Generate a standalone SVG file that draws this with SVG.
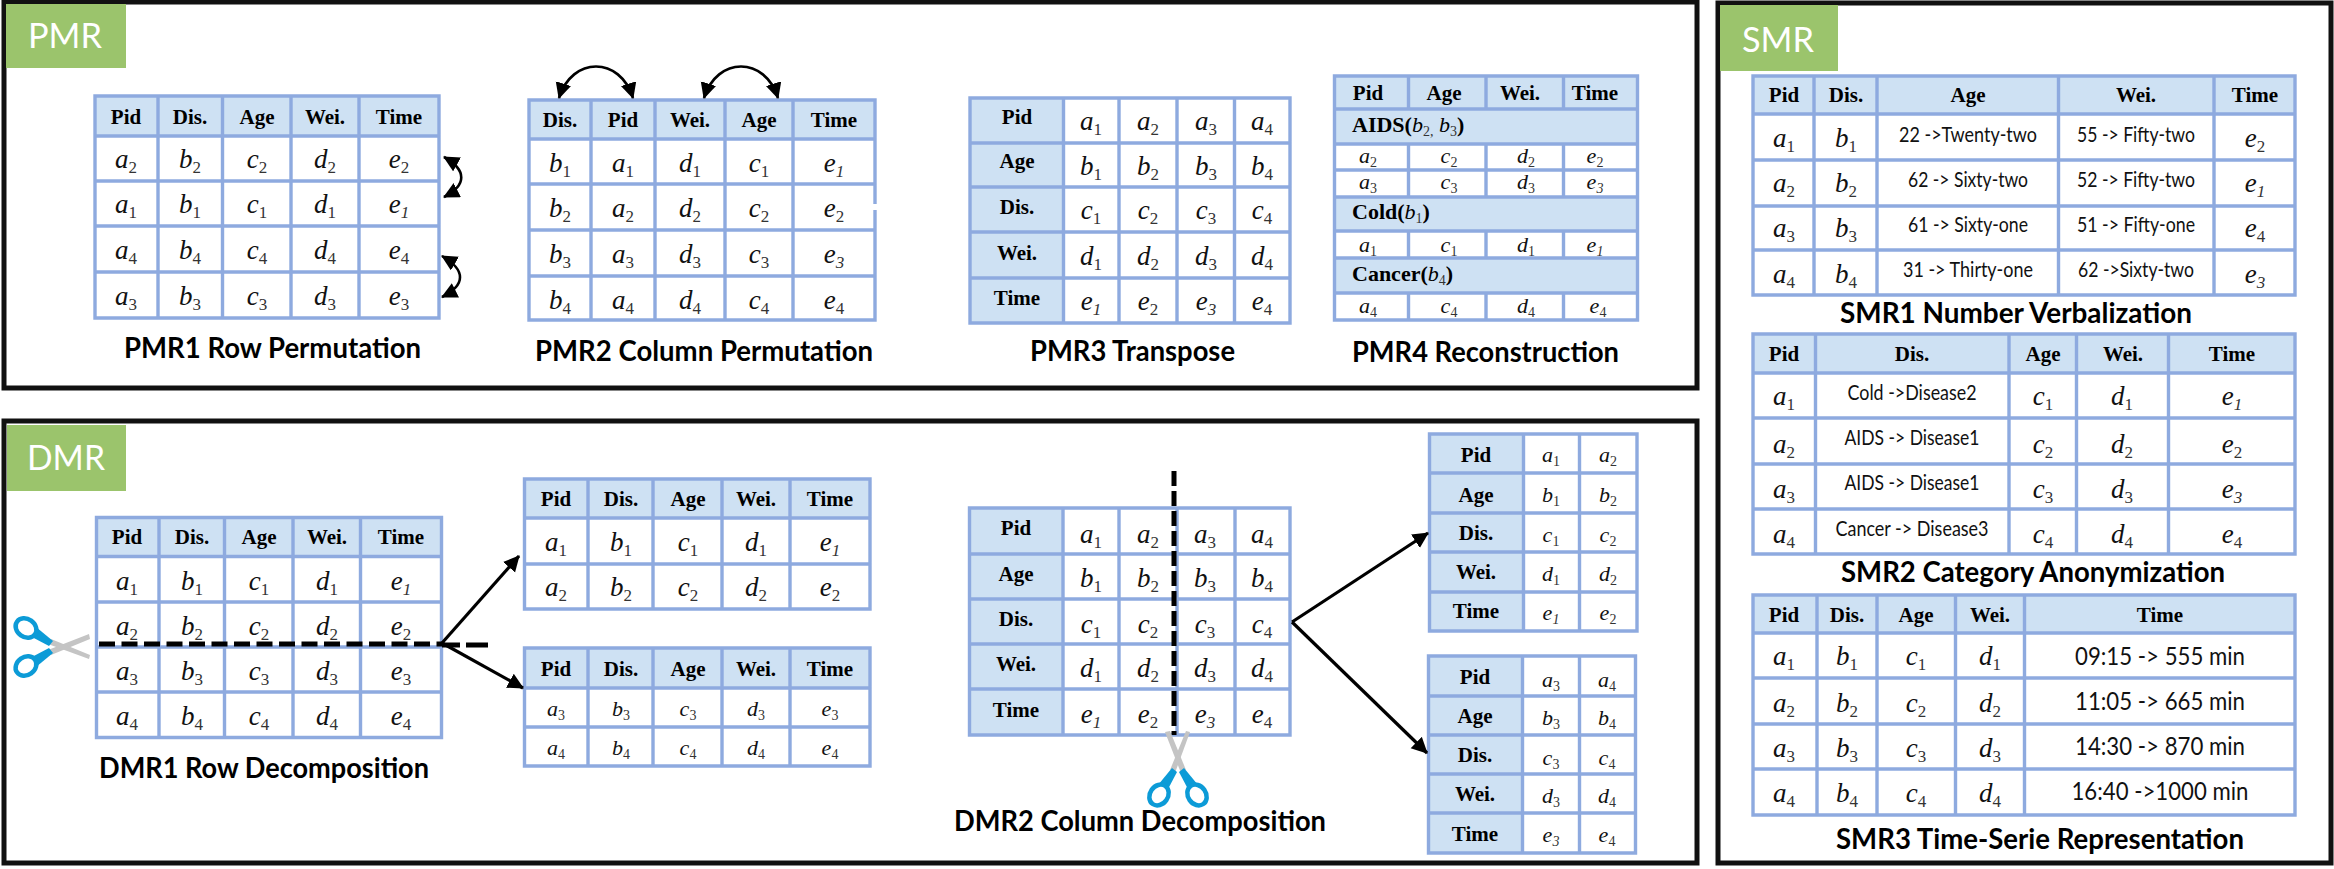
<svg xmlns="http://www.w3.org/2000/svg" width="2334" height="869" viewBox="0 0 2334 869">
<style>
.panel{fill:#fff;stroke:#111;stroke-width:5}
.tag{fill:#9BC46C}
.tagt{font-family:Lato,"Liberation Sans",sans-serif;font-size:34px;fill:#fff;text-anchor:middle}
.head{fill:#CEE1F3}
.grid{fill:none;stroke:#8EAADF;stroke-width:3.4}
.h{font-family:"Liberation Serif",serif;font-weight:bold;font-size:21px;text-anchor:middle;fill:#000}
.m{font-family:"Liberation Serif",serif;font-style:italic;font-size:27px;text-anchor:middle;fill:#111}
.s{font-style:normal;font-size:17px;baseline-shift:-5px;fill:#333}
.t{font-style:italic}
.sm .m,.sm.m{font-size:22px}
.sm .s,.sm.m .s{font-size:14px;baseline-shift:-4px}
.l{font-family:"Liberation Serif",serif;font-weight:bold;font-size:22px;fill:#000}
.l tspan{font-weight:normal;font-style:italic}
.l .s{font-style:normal;font-size:14px;baseline-shift:-4px}
.x{font-family:Lato,"Liberation Sans",sans-serif;font-size:21px;text-anchor:middle;fill:#111}
.x2{font-size:25px}
.title{font-family:Lato,"Liberation Sans",sans-serif;font-weight:bold;font-size:28px;fill:#000}
.arc{fill:none;stroke:#000;stroke-width:2.6}
.arw{fill:none;stroke:#000;stroke-width:3.2}
.cut{fill:none;stroke:#000;stroke-width:5}
.blade{fill:#C4C4C4}
.hand{fill:#fff;stroke:#0C9BD7;stroke-width:4.5}
.arm{fill:#0C9BD7}
</style>
<defs>
<marker id="ah" markerUnits="userSpaceOnUse" markerWidth="18" markerHeight="18" refX="15" refY="8" orient="auto-start-reverse"><path d="M0,0 L16,8 L0,16 Z" fill="#000"/></marker>
<g id="scissors">
<path class="blade" d="M32,-13 L33,-8 L-6,8 L-9,3 Z"/>
<path class="blade" d="M32,12 L33,8 L-6,-8 L-9,-3 Z"/>
<path class="arm" d="M-4,-6 L-21,-20 L-27,-11 L-8,-1 Z"/>
<path class="arm" d="M-4,6 L-21,20 L-27,11 L-8,1 Z"/>
<ellipse class="hand" cx="-31" cy="-19" rx="11" ry="9" transform="rotate(35 -31 -19)"/>
<ellipse class="hand" cx="-31" cy="19" rx="11" ry="9" transform="rotate(-35 -31 19)"/>
</g>
</defs>
<rect width="2334" height="869" fill="#fff"/>
<g id="panel-pmr"><rect class="panel" x="4" y="2" width="1693" height="386"/><rect class="tag" x="6" y="4" width="120" height="64"/><text class="tagt" x="65" y="48" textLength="74" lengthAdjust="spacingAndGlyphs">PMR</text></g>
<g id="panel-dmr"><rect class="panel" x="4" y="421" width="1693" height="442"/><rect class="tag" x="7" y="425" width="119" height="66"/><text class="tagt" x="66" y="470" textLength="78" lengthAdjust="spacingAndGlyphs">DMR</text></g>
<g id="panel-smr"><rect class="panel" x="1718" y="3" width="613" height="860"/><rect class="tag" x="1720" y="5" width="118" height="66"/><text class="tagt" x="1778" y="52" textLength="72" lengthAdjust="spacingAndGlyphs">SMR</text></g>

<g id="pmr1">
<rect class="head" x="95" y="96" width="344" height="40"/>
<path class="grid" d="M95,96H439V318H95ZM95,136H439M95,181H439M95,226H439M95,272H439M158,96V318M222.5,96V318M291,96V318M359,96V318"/>
<g class="h"><text x="126" y="124">Pid</text><text x="190" y="124">Dis.</text><text x="257" y="124">Age</text><text x="325" y="124">Wei.</text><text x="399" y="124">Time</text></g>
<g class="m">
<text x="126" y="168">a<tspan class="s">2</tspan></text><text x="190" y="168">b<tspan class="s">2</tspan></text><text x="257" y="168">c<tspan class="s">2</tspan></text><text x="325" y="168">d<tspan class="s">2</tspan></text><text x="399" y="168">e<tspan class="s">2</tspan></text>
<text x="126" y="213">a<tspan class="s">1</tspan></text><text x="190" y="213">b<tspan class="s">1</tspan></text><text x="257" y="213">c<tspan class="s">1</tspan></text><text x="325" y="213">d<tspan class="s">1</tspan></text><text x="399" y="213">e<tspan class="s t">1</tspan></text>
<text x="126" y="259">a<tspan class="s">4</tspan></text><text x="190" y="259">b<tspan class="s">4</tspan></text><text x="257" y="259">c<tspan class="s">4</tspan></text><text x="325" y="259">d<tspan class="s">4</tspan></text><text x="399" y="259">e<tspan class="s">4</tspan></text>
<text x="126" y="305">a<tspan class="s">3</tspan></text><text x="190" y="305">b<tspan class="s">3</tspan></text><text x="257" y="305">c<tspan class="s">3</tspan></text><text x="325" y="305">d<tspan class="s">3</tspan></text><text x="399" y="305">e<tspan class="s">3</tspan></text>
</g>
<text class="title" x="124" y="358" textLength="297" lengthAdjust="spacingAndGlyphs">PMR1 Row Permutation</text>
</g>

<g id="pmr2">
<rect class="head" x="529" y="100" width="346" height="39"/>
<path class="grid" d="M529,100H875V320H529ZM529,139H875M529,184H875M529,230H875M529,276H875M591,100V320M655,100V320M725,100V320M793,100V320"/>
<g class="h"><text x="560" y="127">Dis.</text><text x="623" y="127">Pid</text><text x="690" y="127">Wei.</text><text x="759" y="127">Age</text><text x="834" y="127">Time</text></g>
<g class="m">
<text x="560" y="172">b<tspan class="s">1</tspan></text><text x="623" y="172">a<tspan class="s">1</tspan></text><text x="690" y="172">d<tspan class="s">1</tspan></text><text x="759" y="172">c<tspan class="s">1</tspan></text><text x="834" y="172">e<tspan class="s t">1</tspan></text>
<text x="560" y="217">b<tspan class="s">2</tspan></text><text x="623" y="217">a<tspan class="s">2</tspan></text><text x="690" y="217">d<tspan class="s">2</tspan></text><text x="759" y="217">c<tspan class="s">2</tspan></text><text x="834" y="217">e<tspan class="s">2</tspan></text>
<text x="560" y="263">b<tspan class="s">3</tspan></text><text x="623" y="263">a<tspan class="s">3</tspan></text><text x="690" y="263">d<tspan class="s">3</tspan></text><text x="759" y="263">c<tspan class="s">3</tspan></text><text x="834" y="263">e<tspan class="s t">3</tspan></text>
<text x="560" y="309">b<tspan class="s">4</tspan></text><text x="623" y="309">a<tspan class="s">4</tspan></text><text x="690" y="309">d<tspan class="s">4</tspan></text><text x="759" y="309">c<tspan class="s">4</tspan></text><text x="834" y="309">e<tspan class="s">4</tspan></text>
</g>
<rect x="873" y="204" width="4" height="6" fill="#fff"/>
<text class="title" x="535" y="361" textLength="338" lengthAdjust="spacingAndGlyphs">PMR2 Column Permutation</text>
</g>

<g id="pmr3">
<rect class="head" x="970" y="98" width="93.500" height="225"/>
<path class="grid" d="M970,98H1290V323H970ZM970,143H1290M970,187H1290M970,232H1290M970,278H1290M1063.500,98V323M1119,98V323M1177,98V323M1234.500,98V323"/>
<g class="h"><text x="1017" y="124">Pid</text><text x="1017" y="168">Age</text><text x="1017" y="214">Dis.</text><text x="1017" y="260">Wei.</text><text x="1017" y="305">Time</text></g>
<g class="m">
<text x="1091" y="130">a<tspan class="s">1</tspan></text><text x="1148" y="130">a<tspan class="s">2</tspan></text><text x="1206" y="130">a<tspan class="s">3</tspan></text><text x="1262" y="130">a<tspan class="s">4</tspan></text>
<text x="1091" y="175">b<tspan class="s">1</tspan></text><text x="1148" y="175">b<tspan class="s">2</tspan></text><text x="1206" y="175">b<tspan class="s">3</tspan></text><text x="1262" y="175">b<tspan class="s">4</tspan></text>
<text x="1091" y="219">c<tspan class="s">1</tspan></text><text x="1148" y="219">c<tspan class="s">2</tspan></text><text x="1206" y="219">c<tspan class="s">3</tspan></text><text x="1262" y="219">c<tspan class="s">4</tspan></text>
<text x="1091" y="265">d<tspan class="s">1</tspan></text><text x="1148" y="265">d<tspan class="s">2</tspan></text><text x="1206" y="265">d<tspan class="s">3</tspan></text><text x="1262" y="265">d<tspan class="s">4</tspan></text>
<text x="1091" y="310">e<tspan class="s t">1</tspan></text><text x="1148" y="310">e<tspan class="s">2</tspan></text><text x="1206" y="310">e<tspan class="s t">3</tspan></text><text x="1262" y="310">e<tspan class="s">4</tspan></text>
</g>
<text class="title" x="1030" y="361" textLength="205" lengthAdjust="spacingAndGlyphs">PMR3 Transpose</text>
</g>

<g id="pmr4" class="sm">
<rect class="head" x="1334.500" y="76" width="303" height="33"/>
<rect class="head" x="1334.500" y="109" width="303" height="35"/>
<rect class="head" x="1334.500" y="197" width="303" height="34"/>
<rect class="head" x="1334.500" y="258" width="303" height="35"/>
<path class="grid" d="M1334.500,76H1637.500V320H1334.500ZM1334.500,109H1637.500M1334.500,144H1637.500M1334.500,170H1637.500M1334.500,197H1637.500M1334.500,231H1637.500M1334.500,258H1637.500M1334.500,293H1637.500M1408.500,76V109M1486,76V109M1563.500,76V109M1408.500,144V197M1486,144V197M1563.500,144V197M1408.500,231V258M1486,231V258M1563.500,231V258M1408.500,293V320M1486,293V320M1563.500,293V320"/>
<g class="h"><text x="1368" y="100">Pid</text><text x="1444" y="100">Age</text><text x="1520" y="100">Wei.</text><text x="1595" y="100">Time</text></g>
<text class="l" x="1352" y="132">AIDS(<tspan>b</tspan><tspan class="s">2,</tspan> <tspan>b</tspan><tspan class="s">3</tspan>)</text>
<text class="l" x="1352" y="219">Cold(<tspan>b</tspan><tspan class="s">1</tspan>)</text>
<text class="l" x="1352" y="281">Cancer(<tspan>b</tspan><tspan class="s">4</tspan>)</text>
<g class="m">
<text x="1368" y="163">a<tspan class="s">2</tspan></text><text x="1449" y="163">c<tspan class="s">2</tspan></text><text x="1526" y="163">d<tspan class="s">2</tspan></text><text x="1595" y="163">e<tspan class="s">2</tspan></text>
<text x="1368" y="189">a<tspan class="s">3</tspan></text><text x="1449" y="189">c<tspan class="s">3</tspan></text><text x="1526" y="189">d<tspan class="s">3</tspan></text><text x="1595" y="189">e<tspan class="s t">3</tspan></text>
<text x="1368" y="252">a<tspan class="s">1</tspan></text><text x="1449" y="252">c<tspan class="s">1</tspan></text><text x="1526" y="252">d<tspan class="s">1</tspan></text><text x="1595" y="252">e<tspan class="s t">1</tspan></text>
<text x="1368" y="313">a<tspan class="s">4</tspan></text><text x="1449" y="313">c<tspan class="s">4</tspan></text><text x="1526" y="313">d<tspan class="s">4</tspan></text><text x="1598" y="313">e<tspan class="s">4</tspan></text>
</g>
<text class="title" x="1352" y="362" textLength="267" lengthAdjust="spacingAndGlyphs">PMR4 Reconstruction</text>
</g>

<g id="dmr1">
<rect class="head" x="96.500" y="517.500" width="345" height="39"/>
<path class="grid" d="M96.500,517.500H441.500V737.500H96.500ZM96.500,556.500H441.500M96.500,602H441.500M96.500,647H441.500M96.500,692H441.500M159,517.500V737.500M224.500,517.500V737.500M293,517.500V737.500M360.500,517.500V737.500"/>
<g class="h"><text x="127" y="544">Pid</text><text x="192" y="544">Dis.</text><text x="259" y="544">Age</text><text x="327" y="544">Wei.</text><text x="401" y="544">Time</text></g>
<g class="m">
<text x="127" y="590">a<tspan class="s">1</tspan></text><text x="192" y="590">b<tspan class="s">1</tspan></text><text x="259" y="590">c<tspan class="s">1</tspan></text><text x="327" y="590">d<tspan class="s">1</tspan></text><text x="401" y="590">e<tspan class="s t">1</tspan></text>
<text x="127" y="635">a<tspan class="s">2</tspan></text><text x="192" y="635">b<tspan class="s">2</tspan></text><text x="259" y="635">c<tspan class="s">2</tspan></text><text x="327" y="635">d<tspan class="s">2</tspan></text><text x="401" y="635">e<tspan class="s">2</tspan></text>
<text x="127" y="680">a<tspan class="s">3</tspan></text><text x="192" y="680">b<tspan class="s">3</tspan></text><text x="259" y="680">c<tspan class="s">3</tspan></text><text x="327" y="680">d<tspan class="s">3</tspan></text><text x="401" y="680">e<tspan class="s">3</tspan></text>
<text x="127" y="725">a<tspan class="s">4</tspan></text><text x="192" y="725">b<tspan class="s">4</tspan></text><text x="259" y="725">c<tspan class="s">4</tspan></text><text x="327" y="725">d<tspan class="s">4</tspan></text><text x="401" y="725">e<tspan class="s">4</tspan></text>
</g>
<text class="title" x="99" y="778" textLength="330" lengthAdjust="spacingAndGlyphs">DMR1 Row Decomposition</text>
</g>

<g id="dmr1-top">
<rect class="head" x="524.500" y="479" width="345.500" height="39"/>
<path class="grid" d="M524.500,479H870V609H524.500ZM524.500,518H870M524.500,564H870M588,479V609M653,479V609M722,479V609M790,479V609"/>
<g class="h"><text x="556" y="506">Pid</text><text x="621" y="506">Dis.</text><text x="688" y="506">Age</text><text x="756" y="506">Wei.</text><text x="830" y="506">Time</text></g>
<g class="m">
<text x="556" y="551">a<tspan class="s">1</tspan></text><text x="621" y="551">b<tspan class="s">1</tspan></text><text x="688" y="551">c<tspan class="s">1</tspan></text><text x="756" y="551">d<tspan class="s">1</tspan></text><text x="830" y="551">e<tspan class="s t">1</tspan></text>
<text x="556" y="596">a<tspan class="s">2</tspan></text><text x="621" y="596">b<tspan class="s">2</tspan></text><text x="688" y="596">c<tspan class="s">2</tspan></text><text x="756" y="596">d<tspan class="s">2</tspan></text><text x="830" y="596">e<tspan class="s">2</tspan></text>
</g>
</g>

<g id="dmr1-bottom" class="sm">
<rect class="head" x="524.500" y="648" width="345.500" height="40"/>
<path class="grid" d="M524.500,648H870V766H524.500ZM524.500,688H870M524.500,727H870M588,648V766M653,648V766M722,648V766M790,648V766"/>
<g class="h"><text x="556" y="676">Pid</text><text x="621" y="676">Dis.</text><text x="688" y="676">Age</text><text x="756" y="676">Wei.</text><text x="830" y="676">Time</text></g>
<g class="m">
<text x="556" y="716">a<tspan class="s">3</tspan></text><text x="621" y="716">b<tspan class="s">3</tspan></text><text x="688" y="716">c<tspan class="s">3</tspan></text><text x="756" y="716">d<tspan class="s">3</tspan></text><text x="830" y="716">e<tspan class="s">3</tspan></text>
<text x="556" y="755">a<tspan class="s">4</tspan></text><text x="621" y="755">b<tspan class="s">4</tspan></text><text x="688" y="755">c<tspan class="s">4</tspan></text><text x="756" y="755">d<tspan class="s">4</tspan></text><text x="830" y="755">e<tspan class="s">4</tspan></text>
</g>
</g>

<g id="dmr2">
<rect class="head" x="969.500" y="508" width="93.500" height="227"/>
<path class="grid" d="M969.500,508H1290V735H969.500ZM969.500,554H1290M969.500,599H1290M969.500,644H1290M969.500,689H1290M1063,508V735M1119,508V735M1177,508V735M1235,508V735"/>
<g class="h"><text x="1016" y="535">Pid</text><text x="1016" y="581">Age</text><text x="1016" y="626">Dis.</text><text x="1016" y="671">Wei.</text><text x="1016" y="717">Time</text></g>
<g class="m">
<text x="1091" y="543">a<tspan class="s">1</tspan></text><text x="1148" y="543">a<tspan class="s">2</tspan></text><text x="1205" y="543">a<tspan class="s">3</tspan></text><text x="1262" y="543">a<tspan class="s">4</tspan></text>
<text x="1091" y="587">b<tspan class="s">1</tspan></text><text x="1148" y="587">b<tspan class="s">2</tspan></text><text x="1205" y="587">b<tspan class="s">3</tspan></text><text x="1262" y="587">b<tspan class="s">4</tspan></text>
<text x="1091" y="633">c<tspan class="s">1</tspan></text><text x="1148" y="633">c<tspan class="s">2</tspan></text><text x="1205" y="633">c<tspan class="s">3</tspan></text><text x="1262" y="633">c<tspan class="s">4</tspan></text>
<text x="1091" y="677">d<tspan class="s">1</tspan></text><text x="1148" y="677">d<tspan class="s">2</tspan></text><text x="1205" y="677">d<tspan class="s">3</tspan></text><text x="1262" y="677">d<tspan class="s">4</tspan></text>
<text x="1091" y="723">e<tspan class="s t">1</tspan></text><text x="1148" y="723">e<tspan class="s">2</tspan></text><text x="1205" y="723">e<tspan class="s t">3</tspan></text><text x="1262" y="723">e<tspan class="s">4</tspan></text>
</g>
<text class="title" x="954" y="831" textLength="372" lengthAdjust="spacingAndGlyphs">DMR2 Column Decomposition</text>
</g>

<g id="dmr2-top" class="sm">
<rect class="head" x="1429.500" y="434" width="94" height="197"/>
<path class="grid" d="M1429.500,434H1637V631H1429.500ZM1429.500,473H1637M1429.500,513H1637M1429.500,552H1637M1429.500,592H1637M1523.500,434V631M1579.500,434V631"/>
<g class="h"><text x="1476" y="462">Pid</text><text x="1476" y="502">Age</text><text x="1476" y="540">Dis.</text><text x="1476" y="579">Wei.</text><text x="1476" y="618">Time</text></g>
<g class="m">
<text x="1551" y="462">a<tspan class="s">1</tspan></text><text x="1608" y="462">a<tspan class="s">2</tspan></text>
<text x="1551" y="502">b<tspan class="s">1</tspan></text><text x="1608" y="502">b<tspan class="s">2</tspan></text>
<text x="1551" y="542">c<tspan class="s">1</tspan></text><text x="1608" y="542">c<tspan class="s">2</tspan></text>
<text x="1551" y="581">d<tspan class="s">1</tspan></text><text x="1608" y="581">d<tspan class="s">2</tspan></text>
<text x="1551" y="620">e<tspan class="s t">1</tspan></text><text x="1608" y="620">e<tspan class="s">2</tspan></text>
</g>
</g>

<g id="dmr2-bottom" class="sm">
<rect class="head" x="1428.500" y="656" width="94" height="197"/>
<path class="grid" d="M1428.500,656H1635.500V853H1428.500ZM1428.500,696H1635.500M1428.500,735H1635.500M1428.500,774H1635.500M1428.500,813H1635.500M1522.500,656V853M1579.500,656V853"/>
<g class="h"><text x="1475" y="684">Pid</text><text x="1475" y="723">Age</text><text x="1475" y="762">Dis.</text><text x="1475" y="801">Wei.</text><text x="1475" y="841">Time</text></g>
<g class="m">
<text x="1551" y="687">a<tspan class="s">3</tspan></text><text x="1607" y="687">a<tspan class="s">4</tspan></text>
<text x="1551" y="725">b<tspan class="s">3</tspan></text><text x="1607" y="725">b<tspan class="s">4</tspan></text>
<text x="1551" y="765">c<tspan class="s">3</tspan></text><text x="1607" y="765">c<tspan class="s">4</tspan></text>
<text x="1551" y="803">d<tspan class="s">3</tspan></text><text x="1607" y="803">d<tspan class="s">4</tspan></text>
<text x="1551" y="842">e<tspan class="s t">3</tspan></text><text x="1607" y="842">e<tspan class="s">4</tspan></text>
</g>
</g>

<g id="smr1">
<rect class="head" x="1753" y="76" width="542" height="38"/>
<path class="grid" d="M1753,76H2295V295H1753ZM1753,114H2295M1753,160H2295M1753,206H2295M1753,250H2295M1814,76V295M1877,76V295M2058.500,76V295M2214,76V295"/>
<g class="h"><text x="1784" y="102">Pid</text><text x="1846" y="102">Dis.</text><text x="1968" y="102">Age</text><text x="2136" y="102">Wei.</text><text x="2255" y="102">Time</text></g>
<g class="m">
<text x="1784" y="147">a<tspan class="s">1</tspan></text><text x="1846" y="147">b<tspan class="s">1</tspan></text><text x="2255" y="147">e<tspan class="s">2</tspan></text>
<text x="1784" y="192">a<tspan class="s">2</tspan></text><text x="1846" y="192">b<tspan class="s">2</tspan></text><text x="2255" y="192">e<tspan class="s t">1</tspan></text>
<text x="1784" y="237">a<tspan class="s">3</tspan></text><text x="1846" y="237">b<tspan class="s">3</tspan></text><text x="2255" y="237">e<tspan class="s">4</tspan></text>
<text x="1784" y="283">a<tspan class="s">4</tspan></text><text x="1846" y="283">b<tspan class="s">4</tspan></text><text x="2255" y="283">e<tspan class="s t">3</tspan></text>
</g>
<g class="x">
<text x="1968" y="142" textLength="138" lengthAdjust="spacingAndGlyphs">22 -&gt;Twenty-two</text><text x="2136" y="142" textLength="118" lengthAdjust="spacingAndGlyphs">55 -&gt; Fifty-two</text>
<text x="1968" y="187" textLength="120" lengthAdjust="spacingAndGlyphs">62 -&gt; Sixty-two</text><text x="2136" y="187" textLength="118" lengthAdjust="spacingAndGlyphs">52 -&gt; Fifty-two</text>
<text x="1968" y="232" textLength="120" lengthAdjust="spacingAndGlyphs">61 -&gt; Sixty-one</text><text x="2136" y="232" textLength="118" lengthAdjust="spacingAndGlyphs">51 -&gt; Fifty-one</text>
<text x="1968" y="277" textLength="130" lengthAdjust="spacingAndGlyphs">31 -&gt; Thirty-one</text><text x="2136" y="277" textLength="116" lengthAdjust="spacingAndGlyphs">62 -&gt;Sixty-two</text>
</g>
<text class="title" x="1840" y="323" textLength="352" lengthAdjust="spacingAndGlyphs">SMR1 Number Verbalization</text>
</g>

<g id="smr2">
<rect class="head" x="1753" y="334" width="542" height="39"/>
<path class="grid" d="M1753,334H2295V554H1753ZM1753,373H2295M1753,418H2295M1753,464H2295M1753,509H2295M1815.500,334V554M2009,334V554M2076.500,334V554M2168.500,334V554"/>
<g class="h"><text x="1784" y="361">Pid</text><text x="1912" y="361">Dis.</text><text x="2043" y="361">Age</text><text x="2123" y="361">Wei.</text><text x="2232" y="361">Time</text></g>
<g class="m">
<text x="1784" y="405">a<tspan class="s">1</tspan></text><text x="2043" y="405">c<tspan class="s">1</tspan></text><text x="2122" y="405">d<tspan class="s">1</tspan></text><text x="2232" y="405">e<tspan class="s t">1</tspan></text>
<text x="1784" y="453">a<tspan class="s">2</tspan></text><text x="2043" y="453">c<tspan class="s">2</tspan></text><text x="2122" y="453">d<tspan class="s">2</tspan></text><text x="2232" y="453">e<tspan class="s">2</tspan></text>
<text x="1784" y="498">a<tspan class="s">3</tspan></text><text x="2043" y="498">c<tspan class="s">3</tspan></text><text x="2122" y="498">d<tspan class="s">3</tspan></text><text x="2232" y="498">e<tspan class="s t">3</tspan></text>
<text x="1784" y="543">a<tspan class="s">4</tspan></text><text x="2043" y="543">c<tspan class="s">4</tspan></text><text x="2122" y="543">d<tspan class="s">4</tspan></text><text x="2232" y="543">e<tspan class="s">4</tspan></text>
</g>
<g class="x">
<text x="1912" y="400" textLength="129" lengthAdjust="spacingAndGlyphs">Cold -&gt;Disease2</text>
<text x="1912" y="445" textLength="135" lengthAdjust="spacingAndGlyphs">AIDS -&gt; Disease1</text>
<text x="1912" y="490" textLength="135" lengthAdjust="spacingAndGlyphs">AIDS -&gt; Disease1</text>
<text x="1912" y="536" textLength="153" lengthAdjust="spacingAndGlyphs">Cancer -&gt; Disease3</text>
</g>
<text class="title" x="1841" y="582" textLength="384" lengthAdjust="spacingAndGlyphs">SMR2 Category Anonymization</text>
</g>

<g id="smr3">
<rect class="head" x="1753" y="595" width="542" height="38"/>
<path class="grid" d="M1753,595H2295V815H1753ZM1753,633H2295M1753,678H2295M1753,724H2295M1753,769H2295M1817,595V815M1877,595V815M1955.500,595V815M2024.500,595V815"/>
<g class="h"><text x="1784" y="622">Pid</text><text x="1847" y="622">Dis.</text><text x="1916" y="622">Age</text><text x="1990" y="622">Wei.</text><text x="2160" y="622">Time</text></g>
<g class="m">
<text x="1784" y="665">a<tspan class="s">1</tspan></text><text x="1847" y="665">b<tspan class="s">1</tspan></text><text x="1916" y="665">c<tspan class="s">1</tspan></text><text x="1990" y="665">d<tspan class="s">1</tspan></text>
<text x="1784" y="712">a<tspan class="s">2</tspan></text><text x="1847" y="712">b<tspan class="s">2</tspan></text><text x="1916" y="712">c<tspan class="s">2</tspan></text><text x="1990" y="712">d<tspan class="s">2</tspan></text>
<text x="1784" y="757">a<tspan class="s">3</tspan></text><text x="1847" y="757">b<tspan class="s">3</tspan></text><text x="1916" y="757">c<tspan class="s">3</tspan></text><text x="1990" y="757">d<tspan class="s">3</tspan></text>
<text x="1784" y="802">a<tspan class="s">4</tspan></text><text x="1847" y="802">b<tspan class="s">4</tspan></text><text x="1916" y="802">c<tspan class="s">4</tspan></text><text x="1990" y="802">d<tspan class="s">4</tspan></text>
</g>
<g class="x x2">
<text x="2160" y="665" textLength="170" lengthAdjust="spacingAndGlyphs">09:15 -&gt; 555 min</text>
<text x="2160" y="710" textLength="170" lengthAdjust="spacingAndGlyphs">11:05 -&gt; 665 min</text>
<text x="2160" y="755" textLength="170" lengthAdjust="spacingAndGlyphs">14:30 -&gt; 870 min</text>
<text x="2160" y="800" textLength="177" lengthAdjust="spacingAndGlyphs">16:40 -&gt;1000 min</text>
</g>
<text class="title" x="1836" y="849" textLength="408" lengthAdjust="spacingAndGlyphs">SMR3 Time-Serie Representation</text>
</g>

<g id="connectors">
<path class="arc" marker-start="url(#ah)" marker-end="url(#ah)" d="M444,157 C467,170 467,185 444,197"/>
<path class="arc" marker-start="url(#ah)" marker-end="url(#ah)" d="M442,256 C466,270 466,285 442,297"/>
<path class="arc" marker-start="url(#ah)" marker-end="url(#ah)" d="M559,98 C572,56 620,56 633,98"/>
<path class="arc" marker-start="url(#ah)" marker-end="url(#ah)" d="M704,98 C717,56 765,56 778,98"/>
<path class="arw" marker-end="url(#ah)" d="M442,643 L519,556"/>
<path class="arw" marker-end="url(#ah)" d="M442,643 L523,688"/>
<path class="arw" marker-end="url(#ah)" d="M1292,622 L1428,533"/>
<path class="arw" marker-end="url(#ah)" d="M1292,622 L1427,753"/>
<path class="cut" stroke-dasharray="16 6.500" d="M99,644 H442"/>
<path class="cut" d="M442,645 H488" stroke-dasharray="18 6 22 0" stroke-width="6"/>
<path class="cut" stroke-dasharray="15 5" d="M1174,471 V735"/>
</g>
<g id="scissors-row"><use href="#scissors" x="57" y="647"/></g>
<g id="scissors-col"><use href="#scissors" transform="translate(1178 764) rotate(-90)"/></g>
</svg>
